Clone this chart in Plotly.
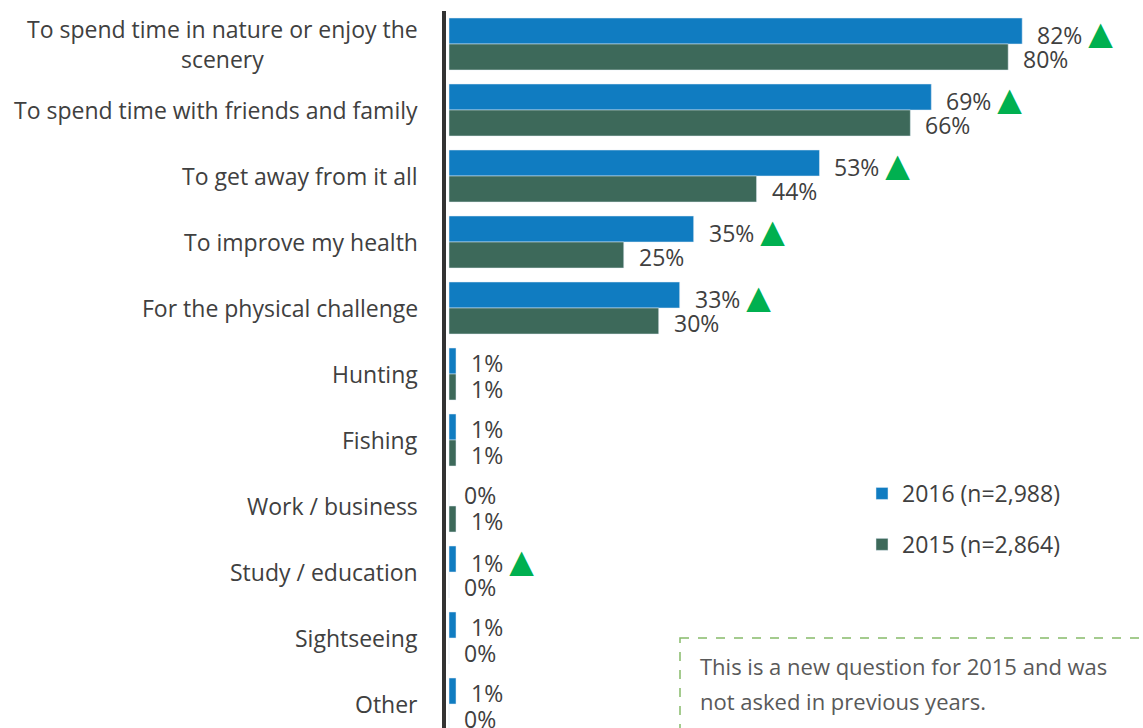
import plotly.graph_objects as go

# Reasons for visiting, survey shares (%)
categories = [
    "To spend time in nature or enjoy the<br>scenery",
    "To spend time with friends and family",
    "To get away from it all",
    "To improve my health",
    "For the physical challenge",
    "Hunting",
    "Fishing",
    "Work / business",
    "Study / education",
    "Sightseeing",
    "Other",
]
values_2016 = [82, 69, 53, 35, 33, 1, 1, 0, 1, 1, 1]
values_2015 = [80, 66, 44, 25, 30, 1, 1, 1, 0, 0, 0]
# significant increase 2016 vs 2015
sig_up_2016 = [True, True, True, True, True, False, False, False, True, False, False]

series_names = ["2016 (n=2,988)", "2015 (n=2,864)"]
note_lines = ["This is a new question for 2015 and was", "not asked in previous years."]

BLUE = "#107CC1"
GREEN = "#3D695A"
UP_GREEN = "#00B050"
TEXT = "#404040"
FONT = "Open Sans"
FS = 23

W, H = 1143, 728
ML, MT = 446, 11
PLOT_W, PLOT_H = W - ML, H - MT
BAND_PX = 66.0          # pixel height of one category band
PX_PER_PCT = 6.99
BARGAP = 0.212
half = (1 - BARGAP) / 4  # offset of each bar's centre from the band centre


def px_x(px):
    return (px - ML) / PLOT_W


def px_y(py):
    return 1 - (py - MT) / PLOT_H


fig = go.Figure()
fig.add_trace(go.Bar(
    y=categories, x=values_2016, orientation="h", name=series_names[0],
    marker=dict(color=BLUE), legendgroup="a",
))
fig.add_trace(go.Bar(
    y=categories, x=values_2015, orientation="h", name=series_names[1],
    marker=dict(color=GREEN), legendgroup="b",
))

annotations = []
# category labels, right aligned next to the axis line
for i, cat in enumerate(categories):
    annotations.append(dict(
        x=0, xref="paper", xanchor="right", xshift=-26,
        y=i, yref="y", yanchor="middle",
        text=cat, align="center", showarrow=False,
        font=dict(family=FONT, size=FS, color=TEXT),
    ))

tri = ' <span style="font-family:DejaVu Sans;font-size:32px;color:%s">▲</span>' % UP_GREEN
for i in range(len(categories)):
    for v, off, flag in ((values_2016[i], -half, sig_up_2016[i]),
                         (values_2015[i], half, False)):
        annotations.append(dict(
            x=v, xref="x", xanchor="left", xshift=13,
            y=i + off, yref="y", yanchor="middle", yshift=-2,
            text=f"{v}%" + (tri if flag else ""), showarrow=False,
            font=dict(family=FONT, size=FS, color=TEXT),
        ))

# note box text
for k, line in enumerate(note_lines):
    annotations.append(dict(
        x=px_x(698), xref="paper", xanchor="left",
        y=px_y(666 + 35 * k), yref="paper", yanchor="middle",
        text=line, showarrow=False,
        font=dict(family=FONT, size=22, color="#595959"),
    ))

x_min = -3 / PX_PER_PCT
x_max = x_min + PLOT_W / PX_PER_PCT
y_top = -0.5
y_bot = y_top + PLOT_H / BAND_PX

fig.update_layout(
    width=W, height=H,
    margin=dict(l=ML, r=0, t=MT, b=0, pad=0, autoexpand=False),
    paper_bgcolor="white", plot_bgcolor="white",
    barmode="group", bargap=BARGAP, bargroupgap=0,
    xaxis=dict(range=[x_min, x_max], showgrid=False, zeroline=False,
               showticklabels=False, showline=False, fixedrange=True),
    yaxis=dict(range=[y_bot, y_top], showgrid=False, zeroline=False,
               showticklabels=False, showline=True, linewidth=4,
               linecolor="#333333", ticks=""),
    showlegend=True,
    legend=dict(
        x=px_x(862), xref="paper", xanchor="left",
        y=px_y(472), yref="paper", yanchor="top",
        traceorder="grouped", tracegroupgap=18,
        font=dict(family=FONT, size=FS, color=TEXT),
        bgcolor="rgba(0,0,0,0)",
    ),
    annotations=annotations,
    shapes=[dict(
        type="rect", xref="paper", yref="paper",
        x0=px_x(680), x1=1.05,
        y0=px_y(638), y1=-0.1,
        line=dict(color="#86BA6A", width=1.5, dash="dash"),
        fillcolor="rgba(0,0,0,0)",
    )],
)

fig.write_html("out.html")
